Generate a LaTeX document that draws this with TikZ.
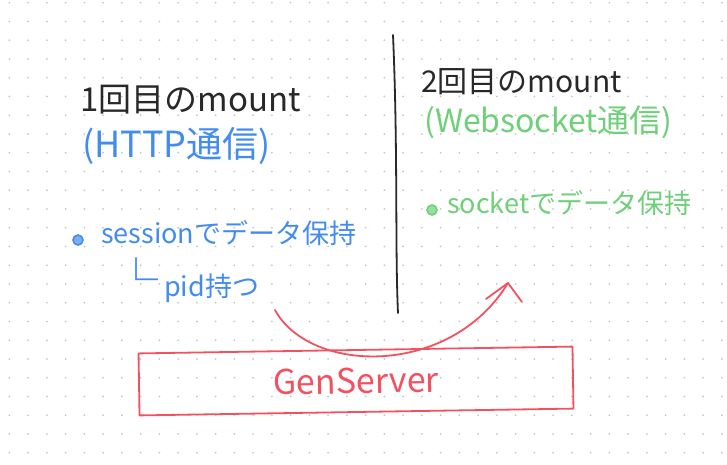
\documentclass[tikz,border=0pt]{standalone}
\usepackage{fontspec}
\setmainfont{Noto Sans CJK JP}
\usepackage{tikz}
\definecolor{penblack}{RGB}{40,40,40}
\definecolor{penblue}{RGB}{66,140,240}
\definecolor{pengreen}{RGB}{110,208,120}
\definecolor{penred}{RGB}{242,82,96}

\begin{document}
\begin{tikzpicture}[x=1pt, y=-1pt]
    \tikzstyle{handtext} = [anchor=west, inner sep=0pt]
    \tikzstyle{bigtext} = [handtext, font=\fontsize{33}{36}\selectfont]
    \tikzstyle{midtext} = [handtext, font=\fontsize{30}{32}\selectfont]
    \tikzstyle{smalltext} = [handtext, font=\fontsize{27}{30}\selectfont]
    \tikzstyle{bulletmark} = [circle, draw, line width=1.6pt, inner sep=0pt, minimum size=10pt]
    \tikzstyle{pen} = [line width=1.8pt, line cap=round, line join=round]
    \useasboundingbox (0,0) rectangle (727,464);
    \fill[white] (0,0) rectangle (727,464);
    % dot grid
    \foreach \i in {0,...,38} \foreach \j in {0,...,24} {
        \fill[gray!45] (9.3+18.75*\i, 2.7+18.75*\j) circle (1pt);
    }
    % first mount (left)
    \node[bigtext, text=penblack] (mountone) at (80,100) {1回目のmount};
    \node[bigtext, text=penblue, font=\fontsize{36}{38}\selectfont] (httpone) at (82,146) {(HTTP通信)};
    \node[bulletmark, draw=penblue, fill=penblue!70] (sessionbullet) at (78,240) {};
    \node[smalltext, text=penblue] (sessionline) at (101,233) {sessionでデータ保持};
    \node[smalltext, text=penblue] (pidline) at (114,280) {{\fontsize{44}{44}\selectfont └}\hspace{6pt}pid持つ};
    % divider
    \coordinate (dividertop) at (393,35);
    \coordinate (dividerbottom) at (398,313);
    \draw[pen, penblack] (dividertop) .. controls (398,150) and (395,250) .. (dividerbottom);
    % second mount (right)
    \node[midtext, text=penblack] (mounttwo) at (421,82) {2回目のmount};
    \node[midtext, text=pengreen, font=\fontsize{32}{34}\selectfont] (wsline) at (424,122) {(Websocket通信)};
    \node[bulletmark, draw=pengreen, fill=pengreen!70] (socketbullet) at (432,210) {};
    \node[smalltext, text=pengreen] (socketline) at (447,203) {socketでデータ保持};
    % GenServer
    \node[pen, draw=penred, text=penred, rotate=0.9, minimum width=434pt, minimum height=62pt,
          font=\fontsize{34}{36}\selectfont] (genserver) at (356,381) {GenServer};
    % pid handed over
    \coordinate (arrowstart) at (275,310);
    \coordinate (arrowtip) at (508,283);
    \draw[pen, penred] (arrowstart) .. controls (310,374) and (450,378) .. (arrowtip);
    \draw[pen, penred] (arrowtip) ++(-22,16) -- (arrowtip) -- ++(14,19);
\end{tikzpicture}
\end{document}
